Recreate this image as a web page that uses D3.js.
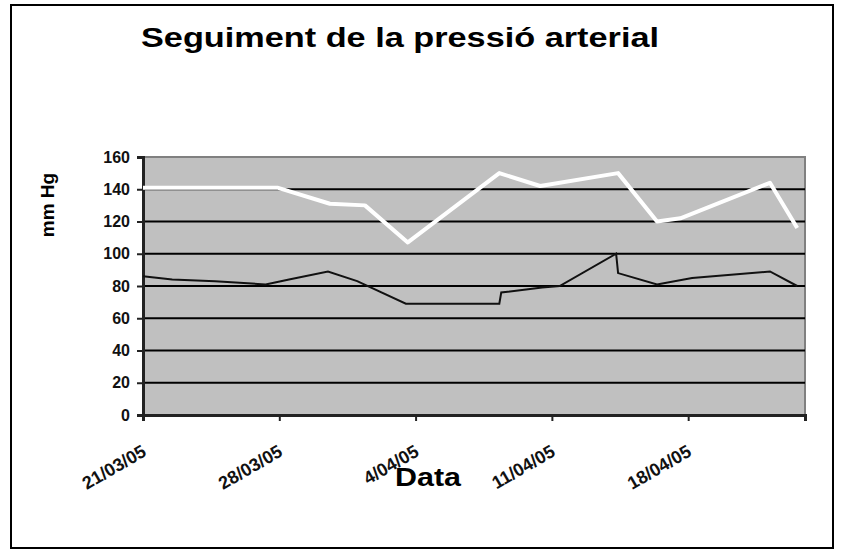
<!DOCTYPE html>
<html>
<head>
<meta charset="utf-8">
<script src="https://d3js.org/d3.v7.min.js"></script>
<style>
  body { margin: 0; background: #fff; }
  text { font-family: "Liberation Sans", Arial, sans-serif; }
</style>
</head>
<body>
<div id="chart"></div>
<script>
// Chart data (day offsets from the first date)
var sistolicaDies = [0, 6.9, 9.6, 11.4, 13.6, 18.3, 20.4, 24.4, 26.4, 27.6, 32.2, 33.6];
var sistolicaValors = [141, 141, 131, 130, 107, 150, 142, 150, 120, 122, 144, 116];

var diastolicaDies = [0, 1.5, 3.7, 6.3, 7.5, 9.5, 11, 13.5, 18.3, 18.4, 20.5, 21.4, 24.3, 24.4, 26.4, 28.2, 32.2, 33.6];
var diastolicaValors = [86, 84, 83, 81, 84, 89, 83, 69, 69, 76, 79, 80, 100, 88, 81, 85, 89, 80];

var xTickDies = [0, 7, 14, 21, 28];
var xTickLabels = ["21/03/05", "28/03/05", "4/04/05", "11/04/05", "18/04/05"];
var yTicks = [0, 20, 40, 60, 80, 100, 120, 140, 160];

// svg dimensions
var svgWidth = 843;
var svgHeight = 559;

// plot area
var plot = { left: 143, right: 805, top: 157, bottom: 415 };

var svg = d3.select("#chart")
  .append("svg")
  .attr("width", svgWidth)
  .attr("height", svgHeight);

// outer chart frame
svg.append("rect")
  .attr("x", 11)
  .attr("y", 5)
  .attr("width", 822)
  .attr("height", 543)
  .attr("fill", "#fff")
  .attr("stroke", "#000")
  .attr("stroke-width", 2);

// scales
var xScale = d3.scaleLinear()
  .domain([0, 34])
  .range([plot.left, plot.right]);

var yScale = d3.scaleLinear()
  .domain([0, 160])
  .range([plot.bottom, plot.top]);

// plot background
svg.append("rect")
  .attr("x", plot.left)
  .attr("y", plot.top)
  .attr("width", plot.right - plot.left)
  .attr("height", plot.bottom - plot.top)
  .attr("fill", "#c0c0c0")
  .attr("stroke", "#808080")
  .attr("stroke-width", 2);

// gridlines
svg.append("g")
  .selectAll("line")
  .data(yTicks.filter(d => d > 0 && d < 160))
  .enter()
  .append("line")
  .attr("x1", plot.left)
  .attr("x2", plot.right)
  .attr("y1", d => yScale(d))
  .attr("y2", d => yScale(d))
  .attr("stroke", "#000")
  .attr("stroke-width", 2);

// y axis
var leftAxis = d3.axisLeft(yScale)
  .tickValues(yTicks)
  .tickSize(6)
  .tickPadding(7);

var yAxis = svg.append("g")
  .attr("transform", `translate(${plot.left}, 0)`)
  .call(leftAxis);

yAxis.select(".domain").attr("stroke", "#222").attr("stroke-width", 3);
yAxis.selectAll(".tick line").attr("stroke", "#222").attr("stroke-width", 2);
yAxis.selectAll(".tick text")
  .attr("font-size", "16px")
  .attr("font-weight", "bold")
  .attr("fill", "#111");

// x axis
var bottomAxis = d3.axisBottom(xScale)
  .tickValues(xTickDies)
  .tickSize(6)
  .tickFormat((d, i) => xTickLabels[i]);

var xAxis = svg.append("g")
  .attr("transform", `translate(0, ${plot.bottom})`)
  .call(bottomAxis);

xAxis.select(".domain").attr("stroke", "#222").attr("stroke-width", 3);
xAxis.selectAll(".tick line").attr("stroke", "#222").attr("stroke-width", 2);
xAxis.selectAll(".tick text")
  .attr("font-size", "18px")
  .attr("font-weight", "bold")
  .attr("fill", "#111")
  .attr("text-anchor", "end")
  .attr("dy", 0)
  .attr("y", 0)
  .attr("transform", "translate(4, 40) rotate(-30)");

// lines
var linia = d3.line()
  .x(d => xScale(d[0]))
  .y(d => yScale(d[1]));

svg.append("path")
  .datum(sistolicaDies.map((d, i) => [d, sistolicaValors[i]]))
  .attr("d", linia)
  .attr("fill", "none")
  .attr("stroke", "#fff")
  .attr("stroke-width", 4)
  .attr("stroke-linejoin", "round");

svg.append("path")
  .datum(diastolicaDies.map((d, i) => [d, diastolicaValors[i]]))
  .attr("d", linia)
  .attr("fill", "none")
  .attr("stroke", "#111")
  .attr("stroke-width", 2);

// title
svg.append("text")
  .attr("x", 400)
  .attr("y", 47)
  .attr("text-anchor", "middle")
  .attr("font-size", "28px")
  .attr("font-weight", "bold")
  .attr("textLength", 518)
  .attr("lengthAdjust", "spacingAndGlyphs")
  .text("Seguiment de la pressió arterial");

// y axis title
svg.append("text")
  .attr("transform", "translate(54, 205) rotate(-90)")
  .attr("text-anchor", "middle")
  .attr("font-size", "19px")
  .attr("font-weight", "bold")
  .text("mm Hg");

// x axis title
svg.append("text")
  .attr("x", 428)
  .attr("y", 486)
  .attr("text-anchor", "middle")
  .attr("font-size", "25px")
  .attr("font-weight", "bold")
  .attr("textLength", 66)
  .attr("lengthAdjust", "spacingAndGlyphs")
  .text("Data");
</script>
</body>
</html>
